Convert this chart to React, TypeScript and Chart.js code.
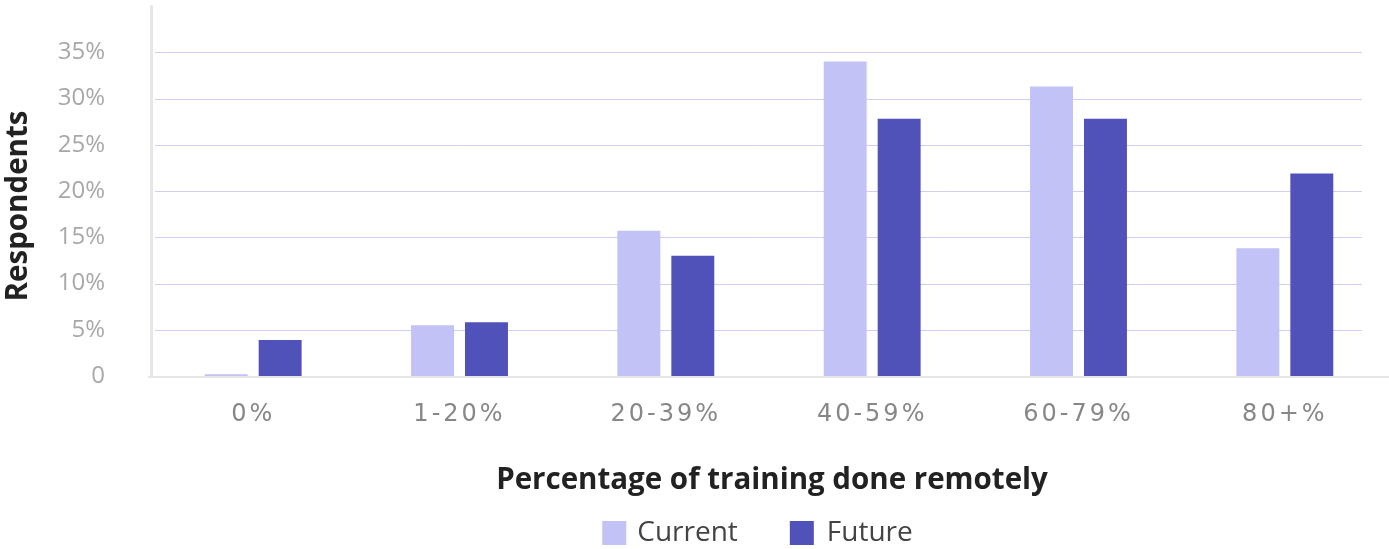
import React, { useEffect, useRef } from "react";
import { Chart, registerables } from "chart.js";

Chart.register(...registerables);

const categories = ["0%", "1-20%", "20-39%", "40-59%", "60-79%", "80+%"];
const currentValues = [0.2, 5.5, 15.7, 34.0, 31.3, 13.8];
const futureValues = [3.9, 5.8, 13.0, 27.8, 27.8, 21.9];
const seriesNames = ["Current", "Future"];
const gridTicks = [5, 10, 15, 20, 25, 30, 35];
const yTitle = "Respondents";
const xTitle = "Percentage of training done remotely";

const LIGHT = "#c2c2f6";
const DARK = "#5052b9";

const decor = {
  id: "decor",
  beforeDatasetsDraw(chart: any) {
    const { ctx, chartArea, scales } = chart;
    const y = scales.y;
    ctx.save();
    ctx.strokeStyle = "#cfcff6";
    ctx.lineWidth = 1;
    gridTicks.forEach((v) => {
      const py = Math.round(y.getPixelForValue(v)) + 0.5;
      ctx.beginPath();
      ctx.moveTo(chartArea.left + 5, py);
      ctx.lineTo(1362, py);
      ctx.stroke();
    });
    ctx.strokeStyle = "#e6e6e6";
    ctx.lineWidth = 3;
    ctx.beginPath();
    ctx.moveTo(chartArea.left + 1.5, chartArea.top - 1);
    ctx.lineTo(chartArea.left + 1.5, chartArea.bottom + 1);
    ctx.stroke();
    ctx.restore();
  },
  afterDatasetsDraw(chart: any) {
    const { ctx, chartArea } = chart;
    ctx.save();
    ctx.strokeStyle = "#e6e6e6";
    ctx.lineWidth = 2;
    ctx.beginPath();
    ctx.moveTo(chartArea.left - 2, chartArea.bottom + 1);
    ctx.lineTo(chart.width, chartArea.bottom + 1);
    ctx.stroke();
    ctx.restore();
    (ctx as any).letterSpacing = "3px";
  },
  afterDraw(chart: any) {
    const { ctx } = chart;
    (ctx as any).letterSpacing = "0px";
    ctx.save();
    ctx.fillStyle = "#222222";
    ctx.font = "bold 29.5px 'Open Sans'";
    ctx.textAlign = "center";
    ctx.textBaseline = "middle";
    ctx.fillText(xTitle, 772, 481);
    ctx.translate(19, 206);
    ctx.rotate(-Math.PI / 2);
    ctx.fillText(yTitle, 0, 0);
    ctx.restore();

    // legend
    ctx.save();
    ctx.font = "28px 'Open Sans'";
    ctx.textBaseline = "middle";
    ctx.textAlign = "left";
    const ds = chart.data.datasets;
    const w0 = ctx.measureText(ds[0].label).width;
    const w1 = ctx.measureText(ds[1].label).width;
    const total = 24 + 11 + w0 + 52 + 24 + 13 + w1;
    let x = 757.5 - total / 2;
    const cy = 533;
    ctx.fillStyle = ds[0].backgroundColor;
    ctx.fillRect(x, cy - 12, 24, 24);
    x += 35;
    ctx.fillStyle = "#444444";
    ctx.fillText(ds[0].label, x, cy);
    x += w0 + 52;
    ctx.fillStyle = ds[1].backgroundColor;
    ctx.fillRect(x, cy - 12, 24, 24);
    x += 37;
    ctx.fillStyle = "#444444";
    ctx.fillText(ds[1].label, x, cy);
    ctx.restore();
  },
};

export default function App() {
  const ref = useRef<HTMLCanvasElement>(null);
  useEffect(() => {
    document.body.style.margin = "0";
    const chart = new Chart(ref.current as HTMLCanvasElement, {
      type: "bar",
      data: {
        labels: categories,
        datasets: [
          { label: seriesNames[0], data: currentValues, backgroundColor: LIGHT },
          { label: seriesNames[1], data: futureValues, backgroundColor: DARK },
        ],
      },
      options: {
        animation: false,
        responsive: true,
        maintainAspectRatio: false,
        layout: { padding: { left: 0, right: 1, top: 6, bottom: 0 } },
        datasets: { bar: { categoryPercentage: 0.523, barPercentage: 0.796 } },
        plugins: { legend: { display: false }, tooltip: { enabled: false } },
        scales: {
          x: {
            grid: { display: false, drawTicks: false },
            border: { display: false },
            ticks: {
              z: 1,
              padding: 24,
              color: "#878787",
              font: { family: "'DejaVu Sans'", size: 24 },
              maxRotation: 0,
            },
            afterFit: (s: any) => {
              s.height = 173;
            },
          },
          y: {
            min: 0,
            max: 40,
            grid: { display: false, drawTicks: true, tickLength: 45 },
            border: { display: false },
            ticks: {
              stepSize: 5,
              padding: 0,
              color: "#a8a8a8",
              font: { family: "'Open Sans'", size: 24, lineHeight: 0.4 },
              callback: (v: any) => (v === 0 ? "0" : v === 40 ? null : v + "%"),
            },
            afterFit: (s: any) => {
              s.width = 150;
            },
          },
        },
      },
      plugins: [decor],
    });
    return () => chart.destroy();
  }, []);
  return (
    <div style={{ position: "relative", width: "1389px", height: "549px" }}>
      <canvas ref={ref} />
    </div>
  );
}
